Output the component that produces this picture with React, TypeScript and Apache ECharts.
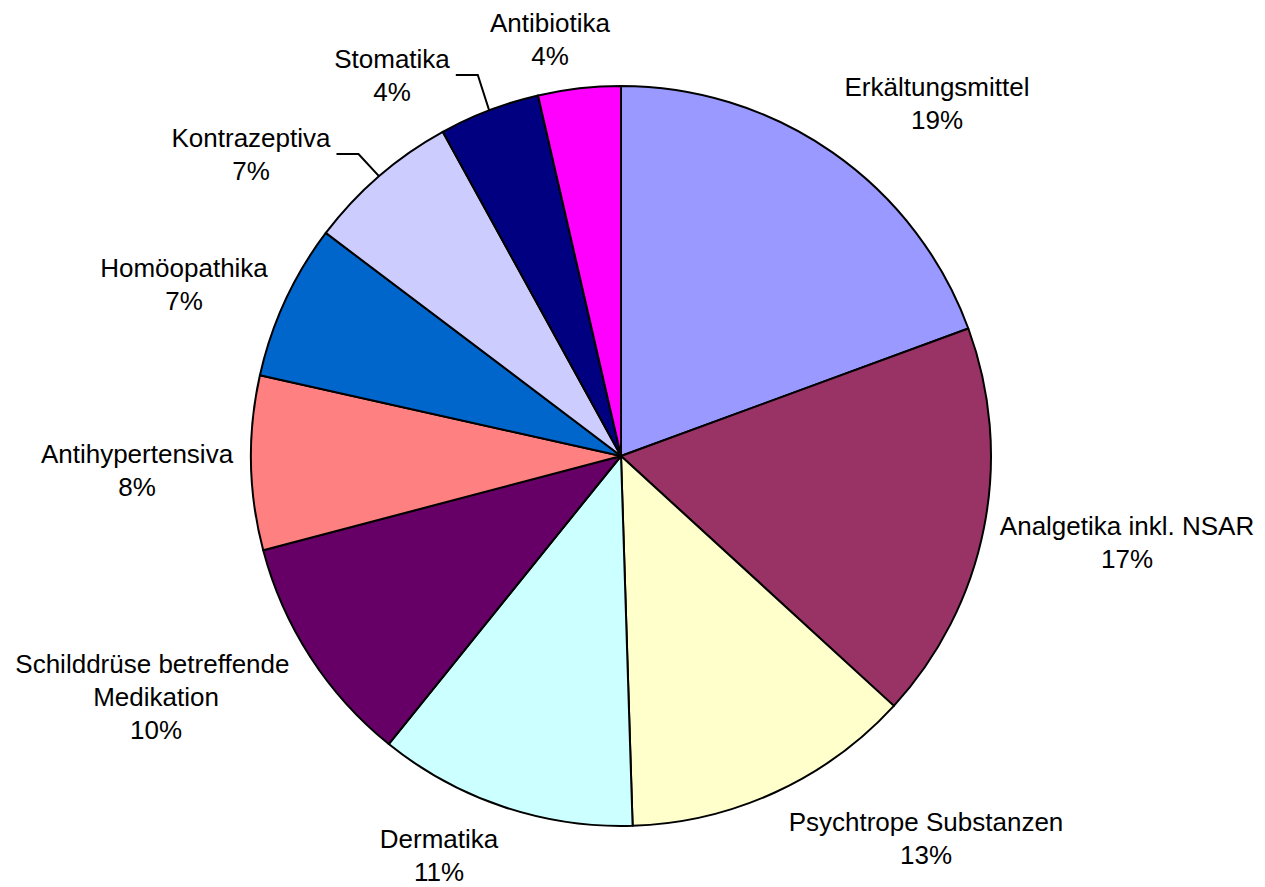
import { useEffect, useRef } from "react";
import * as echarts from "echarts";

// ---- data ----
const categories = [
  "Erkältungsmittel",
  "Analgetika inkl. NSAR",
  "Psychtrope Substanzen",
  "Dermatika",
  "Schilddrüse betreffende Medikation",
  "Antihypertensiva",
  "Homöopathika",
  "Kontrazeptiva",
  "Stomatika",
  "Antibiotika",
];
const shares = [19.4, 17.4, 12.7, 11.3, 10.1, 7.6, 6.8, 6.7, 4.4, 3.6];
const colors = [
  "#9999FF",
  "#993366",
  "#FFFFCC",
  "#CCFFFF",
  "#660066",
  "#FF8080",
  "#0066CC",
  "#CCCCFF",
  "#000080",
  "#FF00FF",
];

// ---- layout (not data) ----
const CENTER = [621, 456];
const RADIUS = 370;
// label block centres, as placed in the reference
const LABEL_CENTERS = [
  [937, 103],
  [1127, 542],
  [926, 838],
  [439, 855],
  [156, 697],
  [137, 470],
  [184, 284],
  [251, 154],
  [392, 75],
  [550, 39],
];
const LEADER = [false, false, false, false, false, false, false, true, true, false];

const total = shares.reduce((a, b) => a + b, 0);
const midAngles: number[] = [];
{
  let acc = 0;
  for (const v of shares) {
    const a0 = (acc / total) * 360;
    acc += v;
    const a1 = (acc / total) * 360;
    midAngles.push((a0 + a1) / 2);
  }
}

export default function App() {
  const ref = useRef<HTMLDivElement>(null);
  useEffect(() => {
    if (!ref.current) return;
    const chart = echarts.init(ref.current, undefined, { renderer: "svg" });
    const data = categories.map((name, i) => ({
      name,
      value: shares[i],
      itemStyle: { color: colors[i] },
      labelLine: { show: LEADER[i] },
      label:
        name.length > 25
          ? { width: 300, overflow: "break" as const }
          : {},
    }));
    chart.setOption({
      animation: false,
      backgroundColor: "#FFFFFF",
      series: [
        {
          type: "pie",
          center: [CENTER[0], CENTER[1]],
          radius: RADIUS,
          startAngle: 90,
          clockwise: true,
          avoidLabelOverlap: false,
          silent: true,
          itemStyle: { borderColor: "#000000", borderWidth: 2 },
          label: {
            show: true,
            position: "outside",
            color: "#000000",
            fontFamily: "Liberation Sans, Arial, sans-serif",
            fontSize: 26,
            lineHeight: 33,
            align: "center",
            formatter: (p: any) => `${p.name}\n${Math.round(p.percent)}%`,
          },
          labelLine: {
            show: true,
            length: 10,
            length2: 20,
            smooth: false,
            lineStyle: { color: "#000000", width: 2 },
          },
          labelLayout: (params: any) => {
            const i = params.dataIndex;
            const [x, y] = LABEL_CENTERS[i];
            const res: any = { x, y, align: "center", verticalAlign: "middle" };
            if (LEADER[i]) {
              const w = params.labelRect.width;
              const a = (midAngles[i] * Math.PI) / 180;
              const px = CENTER[0] + RADIUS * Math.sin(a);
              const py = CENTER[1] - RADIUS * Math.cos(a);
              res.labelLinePoints = [
                [x + w / 2 + 6, y],
                [x + w / 2 + 28, y],
                [px, py],
              ];
            }
            return res;
          },
          data,
        },
      ],
    });
    return () => chart.dispose();
  }, []);
  return (
    <div
      ref={ref}
      style={{ position: "absolute", left: 0, top: 0, width: 1265, height: 887 }}
    />
  );
}
